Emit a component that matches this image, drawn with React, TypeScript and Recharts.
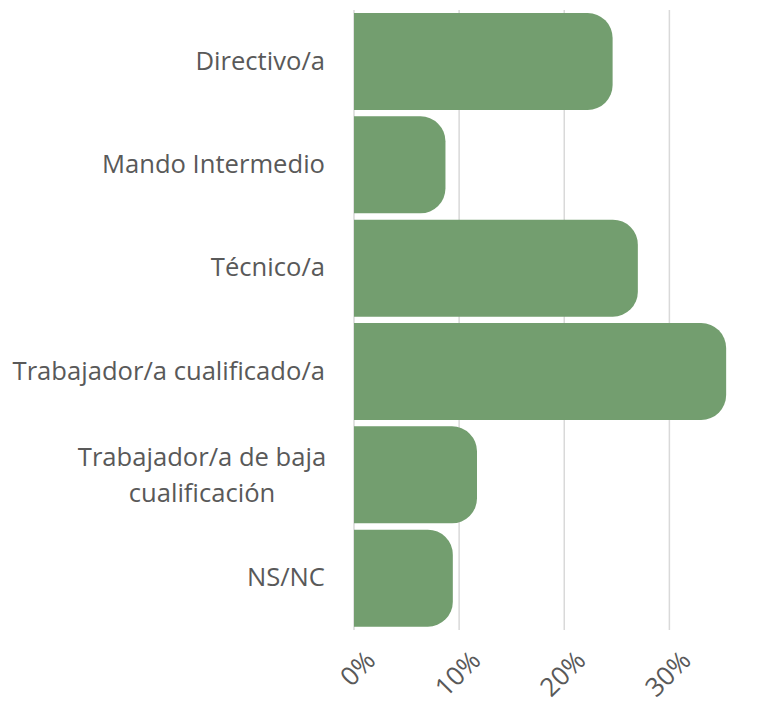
import { BarChart, Bar, XAxis, YAxis, CartesianGrid } from 'recharts';

const categories = [
  'Directivo/a',
  'Mando Intermedio',
  'Técnico/a',
  'Trabajador/a cualificado/a',
  'Trabajador/a de baja cualificación',
  'NS/NC',
];
const shares = [0.246, 0.087, 0.27, 0.354, 0.117, 0.094];
const xTicks = [0, 0.1, 0.2, 0.3];
const X_MAX = 0.39;

// label lines for the one that wraps in the original
const wrapped: Record<string, string[]> = {
  'Trabajador/a de baja cualificación': ['Trabajador/a de baja', 'cualificación'],
};

const data = categories.map((name, i) => ({ name, value: shares[i] }));

const FONT = "'Open Sans', sans-serif";
const TEXT = '#595959';

function CategoryTick({ x, y, payload }: any) {
  const lines = wrapped[payload.value];
  if (lines) {
    return (
      <text x={x - 144} y={y} textAnchor="middle" fill={TEXT} fontSize={25.6} fontFamily={FONT}>
        <tspan x={x - 144} dy={-9}>{lines[0]}</tspan>
        <tspan x={x - 144} dy={36}>{lines[1]}</tspan>
      </text>
    );
  }
  return (
    <text x={x - 21} y={y} dy={8} textAnchor="end" fill={TEXT} fontSize={25.6} fontFamily={FONT}>
      {payload.value}
    </text>
  );
}

function PercentTick({ x, y, payload }: any) {
  const tx = x + 23;
  const ty = y + 24;
  return (
    <text
      x={tx}
      y={ty}
      textAnchor="end"
      fill={TEXT}
      fontSize={26}
      fontFamily={FONT}
      transform={`rotate(-45, ${tx}, ${ty})`}
    >
      {Math.round(payload.value * 100) + '%'}
    </text>
  );
}

// only draw gridlines at the labelled ticks
const gridX = ({ offset }: any) => xTicks.map((t) => offset.left + (t / X_MAX) * offset.width);

export default function App() {
  return (
    <div style={{ position: 'absolute', left: 0, top: 0, background: '#fff' }}>
      <BarChart
        width={767}
        height={705}
        data={data}
        layout="vertical"
        margin={{ top: 10, right: 3, left: 0, bottom: 0 }}
        barCategoryGap={3}
      >
        <CartesianGrid
          horizontal={false}
          stroke="#d9d9d9"
          strokeWidth={1.5}
          verticalCoordinatesGenerator={gridX}
        />
        <XAxis
          type="number"
          domain={[0, X_MAX]}
          ticks={xTicks}
          axisLine={false}
          tickLine={false}
          height={75}
          tick={<PercentTick />}
        />
        <YAxis
          type="category"
          dataKey="name"
          width={354}
          axisLine={false}
          tickLine={false}
          interval={0}
          tick={<CategoryTick />}
        />
        <Bar dataKey="value" fill="#739e6f" radius={[0, 25, 25, 0]} isAnimationActive={false} />
      </BarChart>
    </div>
  );
}
